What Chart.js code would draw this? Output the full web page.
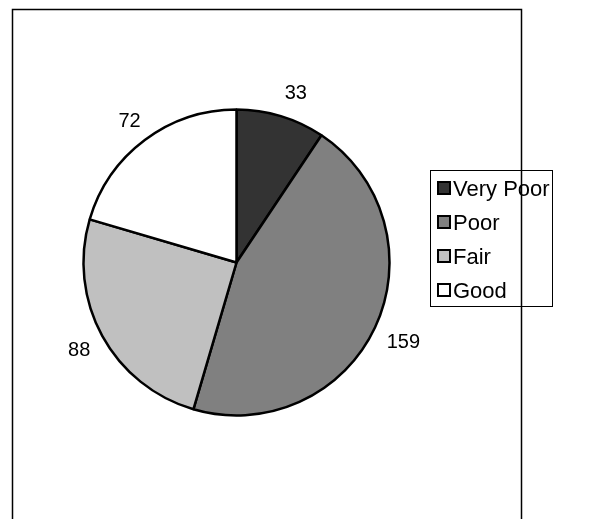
<!DOCTYPE html>
<html>
<head>
<meta charset="utf-8">
<script src="https://cdn.jsdelivr.net/npm/chart.js@4/dist/chart.umd.min.js"></script>
<style>
  html, body { margin: 0; padding: 0; background: #fff; }
  #wrap { width: 590px; height: 519px; }
</style>
</head>
<body>
<div id="wrap"><canvas id="myChart" width="590" height="519"></canvas></div>
<script>
// rating counts
const categories = ['Very Poor', 'Poor', 'Fair', 'Good'];
const counts = [33, 159, 88, 72];
const sliceColors = ['#333333', '#808080', '#c0c0c0', '#ffffff'];

const LABEL_FONT = '20px "Liberation Sans", Arial, sans-serif';
const LEGEND_FONT = '22px "Liberation Sans", Arial, sans-serif';

// frame around the whole chart (open at the bottom)
const framePlugin = {
  id: 'frame',
  beforeDraw(chart) {
    const ctx = chart.ctx;
    ctx.save();
    ctx.strokeStyle = '#000';
    ctx.lineWidth = 1.5;
    ctx.beginPath();
    ctx.moveTo(12.5, 519);
    ctx.lineTo(12.5, 9.5);
    ctx.lineTo(521.5, 9.5);
    ctx.lineTo(521.5, 519);
    ctx.stroke();
    ctx.restore();
  }
};

// value labels just outside each slice
const outsideLabels = {
  id: 'outsideLabels',
  afterDatasetsDraw(chart) {
    const ctx = chart.ctx;
    const meta = chart.getDatasetMeta(0);
    ctx.save();
    ctx.font = LABEL_FONT;
    ctx.fillStyle = '#000';
    ctx.textAlign = 'center';
    ctx.textBaseline = 'alphabetic';
    meta.data.forEach((arc, i) => {
      const p = arc.getProps(['x', 'y', 'startAngle', 'endAngle', 'outerRadius'], true);
      const mid = (p.startAngle + p.endAngle) / 2;
      const dx = Math.cos(mid), dy = Math.sin(mid);
      const txt = String(counts[i]);
      const w = ctx.measureText(txt).width;
      const h = 14.5;
      const dist = p.outerRadius + 13 + Math.abs(dx) * w / 2 + Math.abs(dy) * h / 2;
      const cx = p.x + dx * dist + (Math.abs(dx) < 0.4 ? dx * 28 : 0);
      const cy = p.y + dy * dist - (Math.abs(dx) < 0.4 ? 2 : 0);
      ctx.fillText(txt, cx, cy + h / 2);
    });
    ctx.restore();
  }
};

// boxed legend on the right
const boxLegend = {
  id: 'boxLegend',
  afterDraw(chart) {
    const ctx = chart.ctx;
    ctx.save();
    ctx.strokeStyle = '#000';
    ctx.lineWidth = 1;
    ctx.strokeRect(430.5, 170.5, 122, 136);
    ctx.font = LEGEND_FONT;
    ctx.textAlign = 'left';
    ctx.textBaseline = 'alphabetic';
    categories.forEach((name, i) => {
      const mid = 188 + i * 34;
      ctx.fillStyle = sliceColors[i];
      ctx.fillRect(438, mid - 6, 12, 12);
      ctx.lineWidth = 2;
      ctx.strokeStyle = '#000';
      ctx.strokeRect(438, mid - 6, 12, 12);
      ctx.fillStyle = '#000';
      ctx.fillText(name, 453, mid + 8);
    });
    ctx.restore();
  }
};

const ctx = document.getElementById('myChart').getContext('2d');
new Chart(ctx, {
  type: 'pie',
  data: {
    labels: categories,
    datasets: [{
      data: counts,
      backgroundColor: sliceColors,
      borderColor: '#000',
      borderWidth: 2.5
    }]
  },
  options: {
    responsive: false,
    animation: false,
    radius: 153,
    layout: { padding: { left: 82, right: 199, top: 108, bottom: 102 } },
    plugins: {
      legend: { display: false },
      tooltip: { enabled: false }
    }
  },
  plugins: [framePlugin, outsideLabels, boxLegend]
});
</script>
</body>
</html>
